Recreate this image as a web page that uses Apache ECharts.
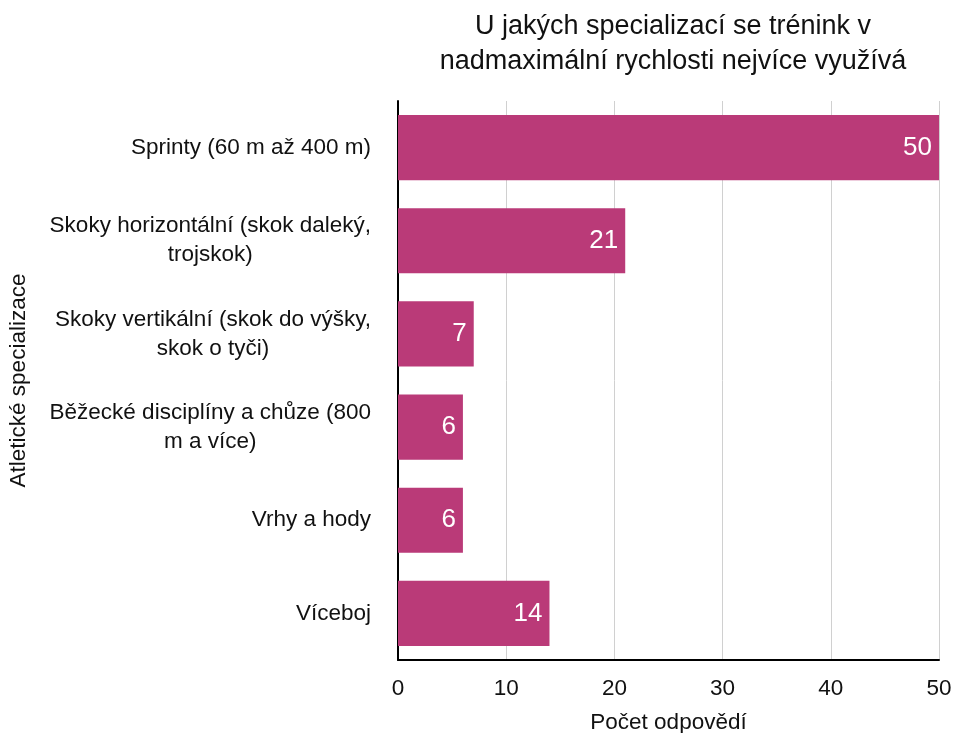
<!DOCTYPE html>
<html>
<head>
<meta charset="utf-8">
<script src="https://cdn.jsdelivr.net/npm/echarts@6/dist/echarts.min.js"></script>
<style>
  html, body { margin: 0; padding: 0; background: #ffffff; }
  #chart { width: 953px; height: 733px; }
</style>
</head>
<body>
<div id="chart"></div>
<script>
// Athletic specializations (top to bottom) and number of responses
const categories = [
  'Sprinty (60 m až 400 m)',
  'Skoky horizontální (skok daleký,\ntrojskok)',
  'Skoky vertikální (skok do výšky,\nskok o tyči)',
  'Běžecké disciplíny a chůze (800\nm a více)',
  'Vrhy a hody',
  'Víceboj'
];
const responses = [50, 21, 7, 6, 6, 14];
const xTicks = [0, 10, 20, 30, 40, 50];

const FONT = '"Liberation Sans", Arial, Helvetica, sans-serif';
const chart = echarts.init(document.getElementById('chart'), null, { renderer: 'canvas' });

chart.setOption({
  backgroundColor: '#ffffff',
  animation: false,
  title: {
    text: 'U jakých specializací se trénink v\nnadmaximální rychlosti nejvíce využívá',
    left: 668,
    top: 4,
    textAlign: 'center',
    textStyle: {
      fontFamily: FONT,
      fontSize: 27,
      fontWeight: 'normal',
      color: '#111111',
      lineHeight: 35
    }
  },
  grid: { left: 398, right: 14, top: 101, bottom: 73, containLabel: false, outerBoundsMode: 'none' },
  xAxis: {
    type: 'value',
    min: xTicks[0],
    max: xTicks[xTicks.length - 1],
    interval: 10,
    name: 'Počet odpovědí',
    nameLocation: 'middle',
    nameGap: 51,
    nameTextStyle: { fontFamily: FONT, fontSize: 22.5, color: '#111111' },
    axisLine: { show: true, lineStyle: { color: '#000000', width: 2 } },
    axisTick: { show: false },
    axisLabel: { fontFamily: FONT, fontSize: 22.5, color: '#111111', margin: 17 },
    splitLine: { show: true, lineStyle: { color: '#d0d0d0', width: 1 } }
  },
  yAxis: {
    type: 'category',
    inverse: true,
    data: categories,
    name: 'Atletické specializace',
    nameLocation: 'middle',
    nameGap: 368,
    nameRotate: 90,
    nameTextStyle: { fontFamily: FONT, fontSize: 22.5, color: '#111111' },
    axisLine: { show: true, lineStyle: { color: '#000000', width: 2 } },
    axisTick: { show: false },
    axisLabel: {
      fontFamily: FONT,
      fontSize: 22.5,
      color: '#111111',
      margin: 27,
      align: 'right',
      lineHeight: 29,
      // block is right-aligned to the axis, each line centred within it
      formatter: function (value) {
        return value.split('\n').map(function (line) { return '{c|' + line + '}'; }).join('\n');
      },
      rich: {
        c: {
          fontFamily: FONT,
          fontSize: 22.5,
          color: '#111111',
          lineHeight: 29,
          align: 'center'
        }
      }
    },
    splitLine: { show: false }
  },
  series: [{
    type: 'bar',
    data: responses,
    barCategoryGap: '30%',
    itemStyle: { color: '#BA3A78' },
    label: {
      show: true,
      position: 'insideRight',
      distance: 7,
      fontFamily: FONT,
      fontSize: 26,
      color: '#ffffff'
    }
  }]
});
</script>
</body>
</html>
